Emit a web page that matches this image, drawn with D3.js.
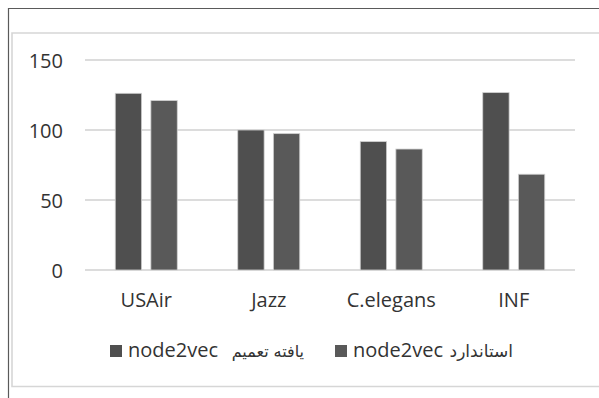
<!DOCTYPE html>
<html>
<head>
<meta charset="utf-8">
<script src="https://cdn.jsdelivr.net/npm/d3@7"></script>
<style>
  html, body { margin: 0; padding: 0; background: #fff; }
  svg { display: block; }
</style>
</head>
<body>
<svg id="chart" width="599" height="398"></svg>
<script>
// Data
const categories = ["USAir", "Jazz", "C.elegans", "INF"];
const generalized = [126.2, 100, 91.7, 126.7];   // node2vec تعمیم یافته
const standard = [121, 97.4, 86.4, 68.4];        // node2vec استاندارد
const yTicks = [0, 50, 100, 150];
const seriesNames = ["generalized", "standard"];

const svg = d3.select("#chart");
const W = 599, H = 398;

svg.append("rect").attr("width", W).attr("height", H).attr("fill", "#fff");

// Frame lines
svg.append("line").attr("x1", 8).attr("x2", W).attr("y1", 8.5).attr("y2", 8.5)
  .attr("stroke", "#5a5a5a").attr("stroke-width", 1.2);
svg.append("line").attr("x1", 8.5).attr("x2", 8.5).attr("y1", 8).attr("y2", H)
  .attr("stroke", "#5a5a5a").attr("stroke-width", 1.2);
svg.append("path")
  .attr("d", `M${W + 5},33 H12 V386.5 H${W + 5}`)
  .attr("fill", "none").attr("stroke", "#d6d6d6").attr("stroke-width", 1.6);

// Scales
const x0 = d3.scaleBand().domain(categories).range([85, 575]).padding(0);
const groupW = 62;
const x1 = d3.scaleBand().domain(seriesNames).range([0, groupW]).paddingInner(0.26);
const y = d3.scaleLinear().domain([0, 150]).range([270, 60]);

const font = "'Open Sans', 'Noto Sans', sans-serif";
const faFont = "'DejaVu Sans', sans-serif";

// Gridlines
svg.append("g").selectAll("line").data(yTicks).join("line")
  .attr("x1", 85).attr("x2", 575)
  .attr("y1", d => y(d)).attr("y2", d => y(d))
  .attr("stroke", "#d0d0d0").attr("stroke-width", 1.5);

// Y axis labels
const yAxis = d3.axisLeft(y).tickValues(yTicks).tickSize(0).tickPadding(0);
const gy = svg.append("g").attr("transform", "translate(63,0)").call(yAxis);
gy.select(".domain").remove();
gy.selectAll("text")
  .attr("font-family", font).attr("font-size", 20).attr("fill", "#333")
  .attr("dy", "0.36em");

// Bars
const colors = { generalized: "#4f4f4f", standard: "#595959" };
const rows = categories.map((c, i) => ({ c, generalized: generalized[i], standard: standard[i] }));
const groups = svg.append("g").selectAll("g").data(rows).join("g")
  .attr("transform", d => `translate(${x0(d.c) + (x0.bandwidth() - groupW) / 2},0)`);
groups.selectAll("rect").data(d => seriesNames.map(k => ({ k, v: d[k] }))).join("rect")
  .attr("x", d => x1(d.k))
  .attr("width", x1.bandwidth())
  .attr("y", d => y(d.v))
  .attr("height", d => y(0) - y(d.v))
  .attr("fill", d => colors[d.k])
  .attr("stroke", "#cfcfcf").attr("stroke-width", 0.8);

// X axis labels
const xAxis = d3.axisBottom(x0).tickSize(0).tickPadding(0);
const gx = svg.append("g").attr("transform", "translate(0,307)").call(xAxis);
gx.select(".domain").remove();
gx.selectAll("text")
  .attr("font-family", font).attr("font-size", 20).attr("fill", "#333")
  .attr("dy", 0);

// Legend
const legend = svg.append("g");
// Persian words, each placed by its right edge
function faWord(right, txt, size) {
  return legend.append("text").attr("x", right).attr("y", 357)
    .attr("direction", "ltr").attr("text-anchor", "end")
    .attr("font-family", faFont).attr("font-size", size).attr("fill", "#333").text(txt);
}
legend.append("rect").attr("x", 110).attr("y", 345).attr("width", 12).attr("height", 12).attr("fill", colors.generalized);
legend.append("text").attr("x", 128).attr("y", 357)
  .attr("font-family", font).attr("font-size", 20).attr("fill", "#333").text("node2vec");
const w2 = faWord(304, "یافته", 16).node().getComputedTextLength();
faWord(304 - w2 - 5, "تعمیم", 16);

legend.append("rect").attr("x", 335).attr("y", 345).attr("width", 12).attr("height", 12).attr("fill", colors.standard);
legend.append("text").attr("x", 353).attr("y", 357)
  .attr("font-family", font).attr("font-size", 20).attr("fill", "#333").text("node2vec");
faWord(513, "استاندارد", 17);
</script>
</body>
</html>
